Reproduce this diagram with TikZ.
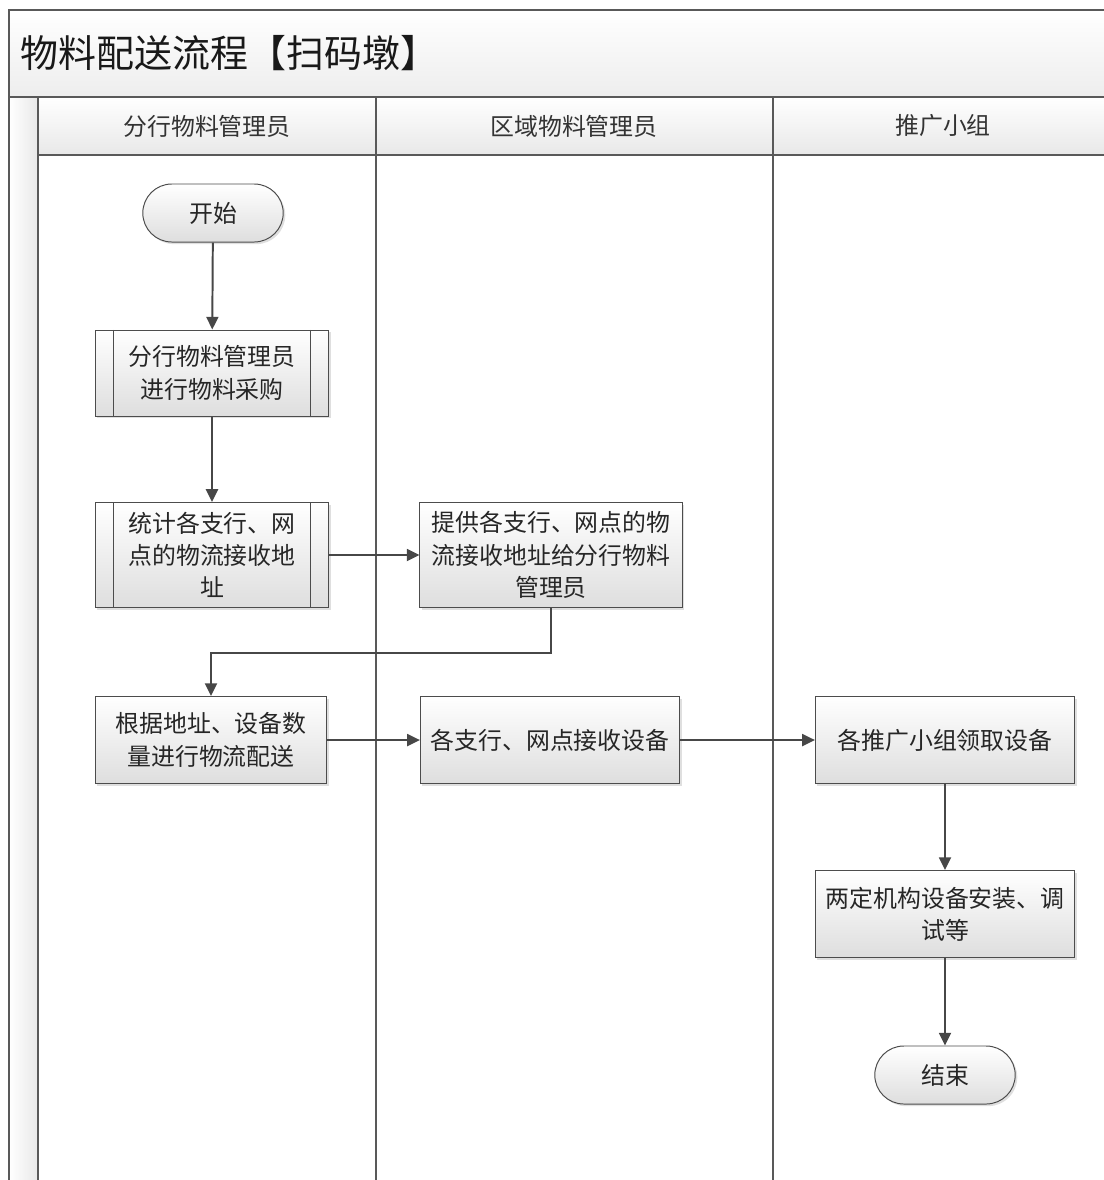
\documentclass[tikz,border=0pt]{standalone}
\usepackage{fontspec}
\newfontfamily\cjk{Noto Sans CJK SC}
\usetikzlibrary{shapes.misc, arrows.meta, shadows}

\begin{document}
\begin{tikzpicture}[
            x=0.025cm, y=-0.025cm, % one unit is one pixel of the page
            frame/.style={draw=black!65, line width=0.9pt}, % pool and lane lines
            flow/.style={draw=black!72, line width=1.4pt, -{Triangle[length=9pt,width=8.5pt]}}, % connectors
            proc/.style={rectangle, draw=black!70, line width=0.7pt, top color=white, bottom color=black!13,
                drop shadow={shadow xshift=1.5pt, shadow yshift=-1.5pt, opacity=0.25},
                align=center, text=black!85, font=\cjk\fontsize{17}{23}\selectfont, inner sep=2pt}, % plain step
            subproc/.style={proc, path picture={
                \draw[black!70, line width=0.7pt] ([xshift=0.45cm]path picture bounding box.north west) -- ([xshift=0.45cm]path picture bounding box.south west);
                \draw[black!70, line width=0.7pt] ([xshift=-0.45cm]path picture bounding box.north east) -- ([xshift=-0.45cm]path picture bounding box.south east);}}, % step with side bars
            term/.style={proc, rounded rectangle, minimum width=3.65cm, minimum height=1.45cm}, % start and end
            hdr/.style={text=black!80, font=\cjk\fontsize{17}{20}\selectfont} % lane titles
            ]

                \useasboundingbox (0,0) rectangle (1104,1180);

                % pool background
                \shade[top color=white, bottom color=black!7] (9,10) rectangle (1104,97);
                \shade[top color=white, bottom color=black!9] (38,97) rectangle (1104,155);
                \shade[left color=white, right color=black!9] (9,97) rectangle (38,1180);

                % pool and lane lines
                \draw[frame] (1104,10) -- (9,10) -- (9,1180);
                \draw[frame] (9,97) -- (1104,97);
                \draw[frame] (38,155) -- (1104,155);
                \draw[frame] (38,97) -- (38,1180);
                \draw[frame] (376,97) -- (376,1180);
                \draw[frame] (773,97) -- (773,1180);

                % titles
                \node[anchor=west, text=black!90, font=\cjk\fontsize{27}{32}\selectfont] (title) at (16,53) {物料配送流程【扫码墩】};
                \node[hdr] (hdrbranch) at (207,126) {分行物料管理员};
                \node[hdr] (hdrregion) at (574,126) {区域物料管理员};
                \node[hdr] (hdrteam) at (943,126) {推广小组};

                % steps
                \node[term] (start) at (213,213) {开始};
                \node[subproc, minimum width=5.83cm, minimum height=2.15cm] (buy) at (212,373) {分行物料管理员\\进行物料采购};
                \node[subproc, minimum width=5.83cm, minimum height=2.63cm] (count) at (212,555) {统计各支行、网\\点的物流接收地\\址};
                \node[proc, minimum width=6.55cm, minimum height=2.63cm] (addr) at (551,555) {提供各支行、网点的物\\流接收地址给分行物料\\管理员};
                \node[proc, minimum width=5.78cm, minimum height=2.18cm] (ship) at (211,740) {根据地址、设备数\\量进行物流配送};
                \node[proc, minimum width=6.48cm, minimum height=2.18cm] (recv) at (550,740) {各支行、网点接收设备};
                \node[proc, minimum width=6.48cm, minimum height=2.18cm] (take) at (945,740) {各推广小组领取设备};
                \node[proc, minimum width=6.48cm, minimum height=2.18cm] (setup) at (945,914) {两定机构设备安装、调\\试等};
                \node[term] (finish) at (945,1075) {结束};

                % connectors
                \coordinate (midrow) at (0,653);
                \draw[flow] (start) -- (buy);
                \draw[flow] (buy) -- (count);
                \draw[flow] (count) -- (addr);
                \draw[flow] (addr.south) -- (addr.south |- midrow) -| (ship.north);
                \draw[flow] (ship) -- (recv);
                \draw[flow] (recv) -- (take);
                \draw[flow] (take) -- (setup);
                \draw[flow] (setup) -- (finish);

            \end{tikzpicture}
\end{document}
